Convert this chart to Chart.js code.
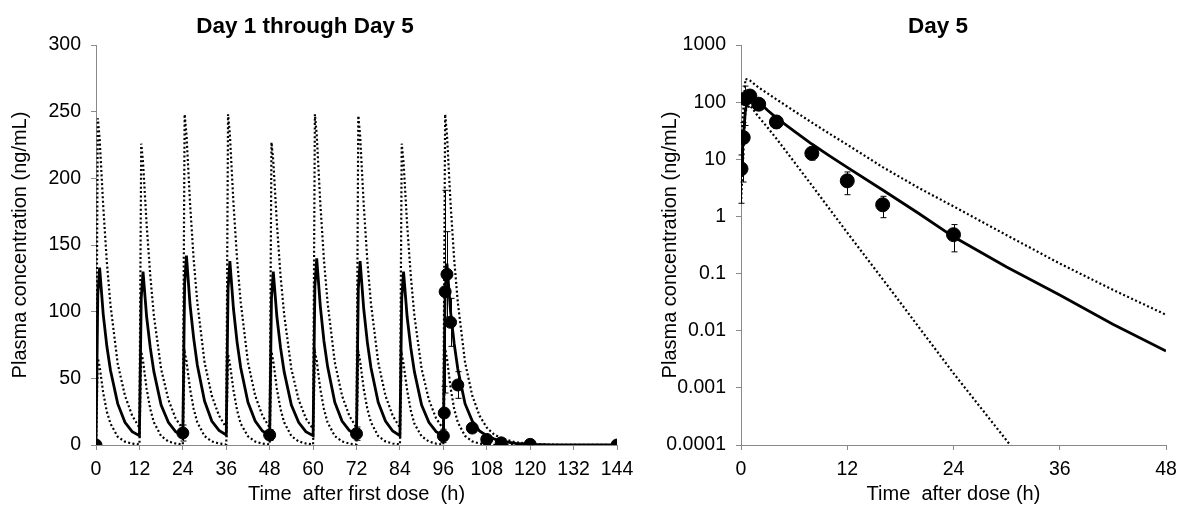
<!DOCTYPE html>
<html lang="en">
<head>
  <meta charset="UTF-8">
  <title>Plasma concentration profiles</title>
  <script src="https://cdn.jsdelivr.net/npm/chart.js"></script>
  <style>
    body {
      margin: 0;
      background: #fff;
      font-family: "Liberation Sans", Arial, sans-serif;
    }

    #wrap {
      position: relative;
      width: 1179px;
      height: 507px;
      overflow: hidden;
    }

    canvas {
      position: absolute;
      top: 0;
    }

    #leftChart { left: 0; }
    #rightChart { left: 640px; }

    .title {
      position: absolute;
      top: 13px;
      font-weight: bold;
      font-size: 22.5px;
      line-height: 26px;
      white-space: nowrap;
      transform: translateX(-50%);
    }
  </style>
</head>
<body>
  <div id="wrap">
    <canvas id="leftChart" width="640" height="507"></canvas>
    <canvas id="rightChart" width="539" height="507"></canvas>
    <div class="title" style="left: 305px;">Day 1 through Day 5</div>
    <div class="title" style="left: 938px;">Day 5</div>
  </div>

  <script>
    // Day 1 - Day 5 (linear), model curves
    const leftTime = [
      0, 0.5, 1, 2, 3, 4, 6, 8, 10,
      12, 12.5, 13, 14, 15, 16, 18, 20, 22,
      24, 24.5, 25, 26, 27, 28, 30, 32, 34,
      36, 36.5, 37, 38, 39, 40, 42, 44, 46,
      48, 48.5, 49, 50, 51, 52, 54, 56, 58,
      60, 60.5, 61, 62, 63, 64, 66, 68, 70,
      72, 72.5, 73, 74, 75, 76, 78, 80, 82,
      84, 84.5, 85, 86, 87, 88, 90, 92, 94,
      96, 96.5, 97, 98, 99, 100, 102, 104, 106,
      108, 110, 112, 116, 120, 126, 132, 138, 144
    ];
    const leftMedian = [
      0, 113, 133, 98, 74, 56, 31, 17, 10,
      7, 110, 130, 96, 73, 55, 30, 17, 10,
      7, 121, 142, 105, 80, 60, 33, 18, 11,
      7.5, 117, 138, 102, 77, 58, 32, 18, 10.5,
      7, 110, 130, 96, 73, 55, 30, 17, 10,
      7, 119, 140, 104, 78, 59, 32, 18, 11,
      7.5, 117, 138, 102, 77, 58, 32, 18, 10.5,
      7, 110, 130, 96, 73, 55, 30, 17, 10,
      7, 116, 136, 100, 76, 57, 31, 18, 10.5,
      7, 4.6, 2.9, 1.15, 0.44, 0.13, 0.042, 0.013, 0.0044
    ];
    const leftUpper = [
      0, 245, 230, 179, 137, 105, 61, 37, 22,
      13, 226, 212, 165, 127, 97, 57, 34, 20,
      12, 248, 233, 181, 139, 107, 62, 37, 22,
      13, 248, 233, 181, 139, 107, 62, 37, 22,
      13, 227, 213, 166, 127, 98, 57, 34, 20,
      12, 248, 233, 181, 139, 107, 62, 37, 22,
      13, 247, 232, 180, 138, 106, 62, 37, 22,
      13, 226, 212, 165, 127, 97, 57, 34, 20,
      12, 248, 233, 181, 139, 107, 62, 37, 22,
      13, 8, 5, 2, 0.8, 0.25, 0.08, 0.03, 0.01
    ];
    const leftLower = [
      0, 65, 59, 39, 25, 16, 6.2, 2.5, 1.0,
      0.4, 70, 63, 42, 27, 17, 6.7, 2.7, 1.1,
      0.4, 70, 63, 42, 27, 17, 6.7, 2.7, 1.1,
      0.4, 68, 61, 41, 26, 16, 6.5, 2.6, 1.0,
      0.4, 70, 63, 42, 27, 17, 6.7, 2.7, 1.1,
      0.4, 70, 63, 42, 27, 17, 6.7, 2.7, 1.1,
      0.4, 70, 63, 42, 27, 17, 6.7, 2.7, 1.1,
      0.4, 68, 61, 41, 26, 16, 6.5, 2.6, 1.0,
      0.4, 72, 65, 43, 27, 17, 6.8, 2.7, 1.1,
      0.43, 0.17, 0.07, 0.01, 0.002, 0, 0, 0, 0
    ];

    // Day 1 - Day 5, observed mean and SD
    const leftObsTime = [0, 24, 48, 72, 96, 96.25, 96.5, 97, 98, 100, 104, 108, 112, 120, 144];
    const leftObsConc = [0, 9, 7.5, 8.5, 6.8, 24, 115, 128, 92, 45, 12.7, 4.2, 1.6, 0.48, 0];
    const leftObsSd = [0, 6, 4, 5, 5, 20, 76, 32, 18, 10, 3, 1.8, 0.65, 0.24, 0];

    // Day 5 (log), model curves
    const rightTime = [0, 0.5, 1, 2, 3, 4, 6, 8, 10, 12, 16, 20, 24, 30, 36, 42, 48];
    const rightMedian = [7, 75, 125, 100, 72, 53, 31, 18.5, 11.5, 7.2, 2.9, 1.15, 0.44, 0.13, 0.042, 0.013, 0.0044];
    const rightUpper = [18, 255, 240, 180, 142, 112, 70, 44, 28, 18, 7.3, 3.2, 1.5, 0.47, 0.15, 0.052, 0.019];
    const rightLower = [1.7, 70, 88, 55, 36, 23, 9, 3.5, 1.35, 0.52, 0.08, 0.012, 0.0018, 0.00012, 0.0000075, 0.00000045, 0.00000003];

    // Day 5, observed mean and SD
    const rightObsTime = [0, 0.25, 0.5, 1, 2, 4, 8, 12, 16, 24];
    const rightObsConc = [6.8, 24, 115, 128, 92, 45, 12.7, 4.2, 1.6, 0.48];
    const rightObsSd = [5.1, 20, 76, 32, 18, 10, 3, 1.8, 0.65, 0.24];

    // axis ticks
    const leftXTicks = { min: 0, max: 144, step: 12 };
    const leftYTicks = { min: 0, max: 300, step: 50 };
    const rightXTicks = { min: 0, max: 48, step: 12 };
    const rightYValues = [0.0001, 0.001, 0.01, 0.1, 1, 10, 100, 1000];
    const rightYLabels = ['0.0001', '0.001', '0.01', '0.1', '1', '10', '100', '1000'];

    Chart.defaults.font.family = '"Liberation Sans", Arial, sans-serif';
    Chart.defaults.color = '#000';
    Chart.defaults.animation = false;

    const axisGray = '#898989';
    const tickFont = { size: 19.5 };
    const titleFont = { size: 20 };

    const toPoints = (xs, ys) => xs.map((x, i) => ({ x: x, y: ys[i] }));

    // simple error bars, drawn for datasets carrying an "sd" array
    const errorBars = {
      id: 'errorBars',
      afterDatasetsDraw(chart) {
        const ctx = chart.ctx;
        const xs = chart.scales.x;
        const ys = chart.scales.y;
        const area = chart.chartArea;
        ctx.save();
        ctx.strokeStyle = '#000';
        ctx.lineWidth = 1;
        chart.data.datasets.forEach((ds) => {
          if (!ds.sd) return;
          ds.data.forEach((p, i) => {
            const sd = ds.sd[i];
            if (!sd) return;
            const x = Math.round(xs.getPixelForValue(p.x)) + 0.5;
            const top = ys.getPixelForValue(p.y + sd);
            const low = p.y - sd;
            const hasLow = low > ys.min;
            const bottom = hasLow ? ys.getPixelForValue(low) : area.bottom;
            ctx.beginPath();
            ctx.moveTo(x, top);
            ctx.lineTo(x, bottom);
            ctx.moveTo(x - 3, top);
            ctx.lineTo(x + 3, top);
            if (hasLow) {
              ctx.moveTo(x - 3, bottom);
              ctx.lineTo(x + 3, bottom);
            }
            ctx.stroke();
          });
        });
        ctx.restore();
      }
    };

    function curve(xs, ys, dotted) {
      return {
        data: toPoints(xs, ys),
        showLine: true,
        pointRadius: 0,
        borderColor: '#000',
        borderWidth: dotted ? 2.2 : 2.8,
        borderDash: dotted ? [2, 2.4] : [],
        tension: 0
      };
    }

    function axisBase() {
      return {
        grid: { drawOnChartArea: false, color: axisGray, tickColor: axisGray, tickLength: 5 },
        border: { color: axisGray, width: 1 }
      };
    }

    // x axis box: fixed height, no extra side padding for the end labels
    function fitX(scale) {
      scale.height = 62;
      scale.paddingLeft = 0;
      scale.paddingRight = 0;
    }

    // Left chart
    new Chart(document.getElementById('leftChart'), {
      type: 'scatter',
      data: {
        datasets: [
          {
            data: toPoints(leftObsTime, leftObsConc),
            sd: leftObsSd,
            pointRadius: 6,
            pointBackgroundColor: '#000',
            pointBorderColor: '#000',
            showLine: false
          },
          curve(leftTime, leftMedian, false),
          curve(leftTime, leftUpper, true),
          curve(leftTime, leftLower, true)
        ]
      },
      options: {
        responsive: false,
        devicePixelRatio: 1,
        layout: { padding: { top: 45, right: 23, left: 0, bottom: 0 } },
        plugins: { legend: { display: false }, tooltip: { enabled: false } },
        scales: {
          x: {
            ...axisBase(),
            type: 'linear',
            min: leftXTicks.min,
            max: leftXTicks.max,
            ticks: { stepSize: leftXTicks.step, font: tickFont, padding: 8, maxRotation: 0 },
            title: { display: true, text: 'Time  after first dose  (h)', font: titleFont, padding: { top: 0, bottom: 1 } },
            afterFit: fitX
          },
          y: {
            ...axisBase(),
            type: 'linear',
            min: leftYTicks.min,
            max: leftYTicks.max,
            ticks: { stepSize: leftYTicks.step, font: tickFont, padding: 10 },
            title: { display: true, text: 'Plasma concentration (ng/mL)', font: titleFont, padding: { top: 8, bottom: 0 } },
            afterFit(scale) { scale.width = 96; }
          }
        }
      },
      plugins: [errorBars]
    });

    // Right chart
    new Chart(document.getElementById('rightChart'), {
      type: 'scatter',
      data: {
        datasets: [
          {
            data: toPoints(rightObsTime, rightObsConc),
            sd: rightObsSd,
            pointRadius: 7,
            pointBackgroundColor: '#000',
            pointBorderColor: '#000',
            showLine: false
          },
          curve(rightTime, rightMedian, false),
          curve(rightTime, rightUpper, true),
          curve(rightTime, rightLower, true)
        ]
      },
      options: {
        responsive: false,
        devicePixelRatio: 1,
        layout: { padding: { top: 45, right: 13, left: 0, bottom: 0 } },
        plugins: { legend: { display: false }, tooltip: { enabled: false } },
        scales: {
          x: {
            ...axisBase(),
            type: 'linear',
            min: rightXTicks.min,
            max: rightXTicks.max,
            ticks: { stepSize: rightXTicks.step, font: tickFont, padding: 8, maxRotation: 0 },
            title: { display: true, text: 'Time  after dose (h)', font: titleFont, padding: { top: 0, bottom: 1 } },
            afterFit: fitX
          },
          y: {
            ...axisBase(),
            type: 'logarithmic',
            min: rightYValues[0],
            max: rightYValues[rightYValues.length - 1],
            afterBuildTicks(scale) {
              scale.ticks = rightYValues.map((v) => ({ value: v }));
            },
            ticks: {
              font: tickFont,
              padding: 10,
              callback: (value) => rightYLabels[rightYValues.indexOf(value)]
            },
            title: { display: true, text: 'Plasma concentration (ng/mL)', font: titleFont, padding: { top: 18, bottom: 0 } },
            afterFit(scale) { scale.width = 101; }
          }
        }
      },
      plugins: [errorBars]
    });
  </script>
</body>
</html>
